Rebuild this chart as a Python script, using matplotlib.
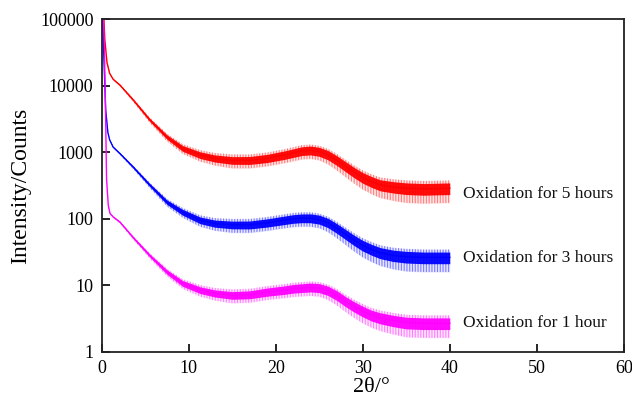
import numpy as np
import matplotlib
matplotlib.use("Agg")
import matplotlib.pyplot as plt

# ---- data (log10 intensity of the band centre) ----
x_5h = [0.15, 0.35, 0.6, 0.9, 1.3, 2.1, 3.6, 5.5, 7.5, 9.3, 11.3, 13, 15, 17, 19, 21, 22, 23, 24, 25, 26, 27, 28, 29, 30, 31, 32, 33.5, 35, 37, 40]
log_5h = [5.3, 4.7, 4.35, 4.19, 4.10, 4.01, 3.79, 3.49, 3.23, 3.06, 2.96, 2.91, 2.88, 2.88, 2.91, 2.96, 2.99, 3.02, 3.03, 3.01, 2.96, 2.88, 2.79, 2.70, 2.62, 2.56, 2.51, 2.48, 2.46, 2.45, 2.46]

x_3h = [0.1, 0.2, 0.45, 0.7, 0.9, 1.3, 2.1, 3.6, 5.5, 7.5, 9.3, 11.3, 13, 15, 17, 19, 21, 22, 23, 24, 25, 26, 27, 28, 29, 30, 31, 32, 33.5, 35, 37, 40]
log_3h = [5.3, 4.6, 3.64, 3.3, 3.19, 3.08, 2.98, 2.78, 2.51, 2.25, 2.10, 1.98, 1.93, 1.91, 1.91, 1.94, 1.98, 2.00, 2.01, 2.01, 1.99, 1.94, 1.86, 1.77, 1.68, 1.60, 1.54, 1.49, 1.45, 1.43, 1.42, 1.42]

x_1h = [0.2, 0.3, 0.45, 0.55, 0.75, 0.95, 1.3, 2.1, 3.6, 5.5, 7.5, 9.3, 11.3, 13, 15, 17, 19, 21, 22, 23, 24, 25, 26, 27, 28, 29, 30, 31, 32, 33.5, 35, 37, 40]
log_1h = [5.0, 4.6, 3.5, 2.6, 2.2, 2.08, 2.03, 1.95, 1.72, 1.45, 1.20, 1.03, 0.93, 0.88, 0.85, 0.86, 0.90, 0.93, 0.95, 0.96, 0.97, 0.96, 0.92, 0.85, 0.76, 0.68, 0.61, 0.55, 0.51, 0.47, 0.44, 0.43, 0.43]

# noise band half-widths (decades) versus 2theta
noise_x = [0, 1, 3, 6, 10, 15, 20, 25, 30, 35, 40]
noise_up = [0.004, 0.006, 0.012, 0.025, 0.045, 0.055, 0.06, 0.065, 0.075, 0.08, 0.08]
noise_dn = [0.004, 0.006, 0.012, 0.025, 0.05, 0.06, 0.065, 0.07, 0.085, 0.095, 0.095]
spike_up = [0.004, 0.008, 0.02, 0.04, 0.07, 0.09, 0.09, 0.09, 0.11, 0.12, 0.12]
spike_dn = [0.004, 0.01, 0.025, 0.05, 0.09, 0.12, 0.12, 0.13, 0.18, 0.22, 0.22]

labels = ["Oxidation for 5 hours", "Oxidation for 3 hours", "Oxidation for 1 hour"]
label_y = [235, 26, 2.75]
colors = ["#FF0000", "#0000FF", "#FF00FF"]

xticks = [0, 10, 20, 30, 40, 50, 60]
yticks = [1, 10, 100, 1000, 10000, 100000]
ytick_labels = ["1", "10", "100", "1000", "10000", "100000"]

plt.rcParams["font.family"] = ["Liberation Serif", "DejaVu Serif"]
plt.rcParams["hatch.linewidth"] = 0.8

fig = plt.figure(figsize=(6.32, 4.03), dpi=100)
ax = fig.add_axes([0.161, 0.127, 0.826, 0.825])

series = [(x_5h, log_5h), (x_3h, log_3h), (x_1h, log_1h)]
for (xs, ls), c in zip(series, colors):
    xs = np.asarray(xs, float)
    ls = np.asarray(ls, float)
    up = np.interp(xs, noise_x, noise_up)
    dn = np.interp(xs, noise_x, noise_dn)
    su = np.interp(xs, noise_x, spike_up)
    sd = np.interp(xs, noise_x, spike_dn)
    # sparse spikes: vertical hatch in the outer envelope
    plt.rcParams["hatch.color"] = c
    ax.fill_between(xs, 10 ** (ls - sd), 10 ** (ls + su), facecolor="none",
                    edgecolor=c, hatch="||||||", lw=0, alpha=0.45)
    ax.fill_between(xs, 10 ** (ls - sd), 10 ** (ls + su), color=c, alpha=0.10, lw=0)
    # dense core of the noisy trace
    ax.fill_between(xs, 10 ** (ls - dn), 10 ** (ls + up), color=c, alpha=0.95, lw=0)
    ax.plot(xs, 10 ** ls, color=c, lw=1.0)

for t, yv in zip(labels, label_y):
    ax.text(41.5, yv, t, fontsize=12.5, va="center", ha="left", color="#111111")

ax.set_yscale("log")
ax.set_xlim(0, 60)
ax.set_ylim(1, 100000)
ax.set_xticks(xticks)
ax.set_yticks(yticks)
ax.set_yticklabels(ytick_labels)
ax.yaxis.set_minor_locator(matplotlib.ticker.NullLocator())
ax.tick_params(direction="in", length=6, width=1.2, labelsize=13, top=False, right=False, pad=6)
for s in ax.spines.values():
    s.set_linewidth(1.3)
    s.set_color("#222222")

ax.set_xlabel("2θ/°", fontsize=16)
ax.xaxis.set_label_coords(0.517, -0.08)
ax.set_ylabel("Intensity/Counts", fontsize=17, labelpad=6)

fig.savefig("out.png", dpi=100)
